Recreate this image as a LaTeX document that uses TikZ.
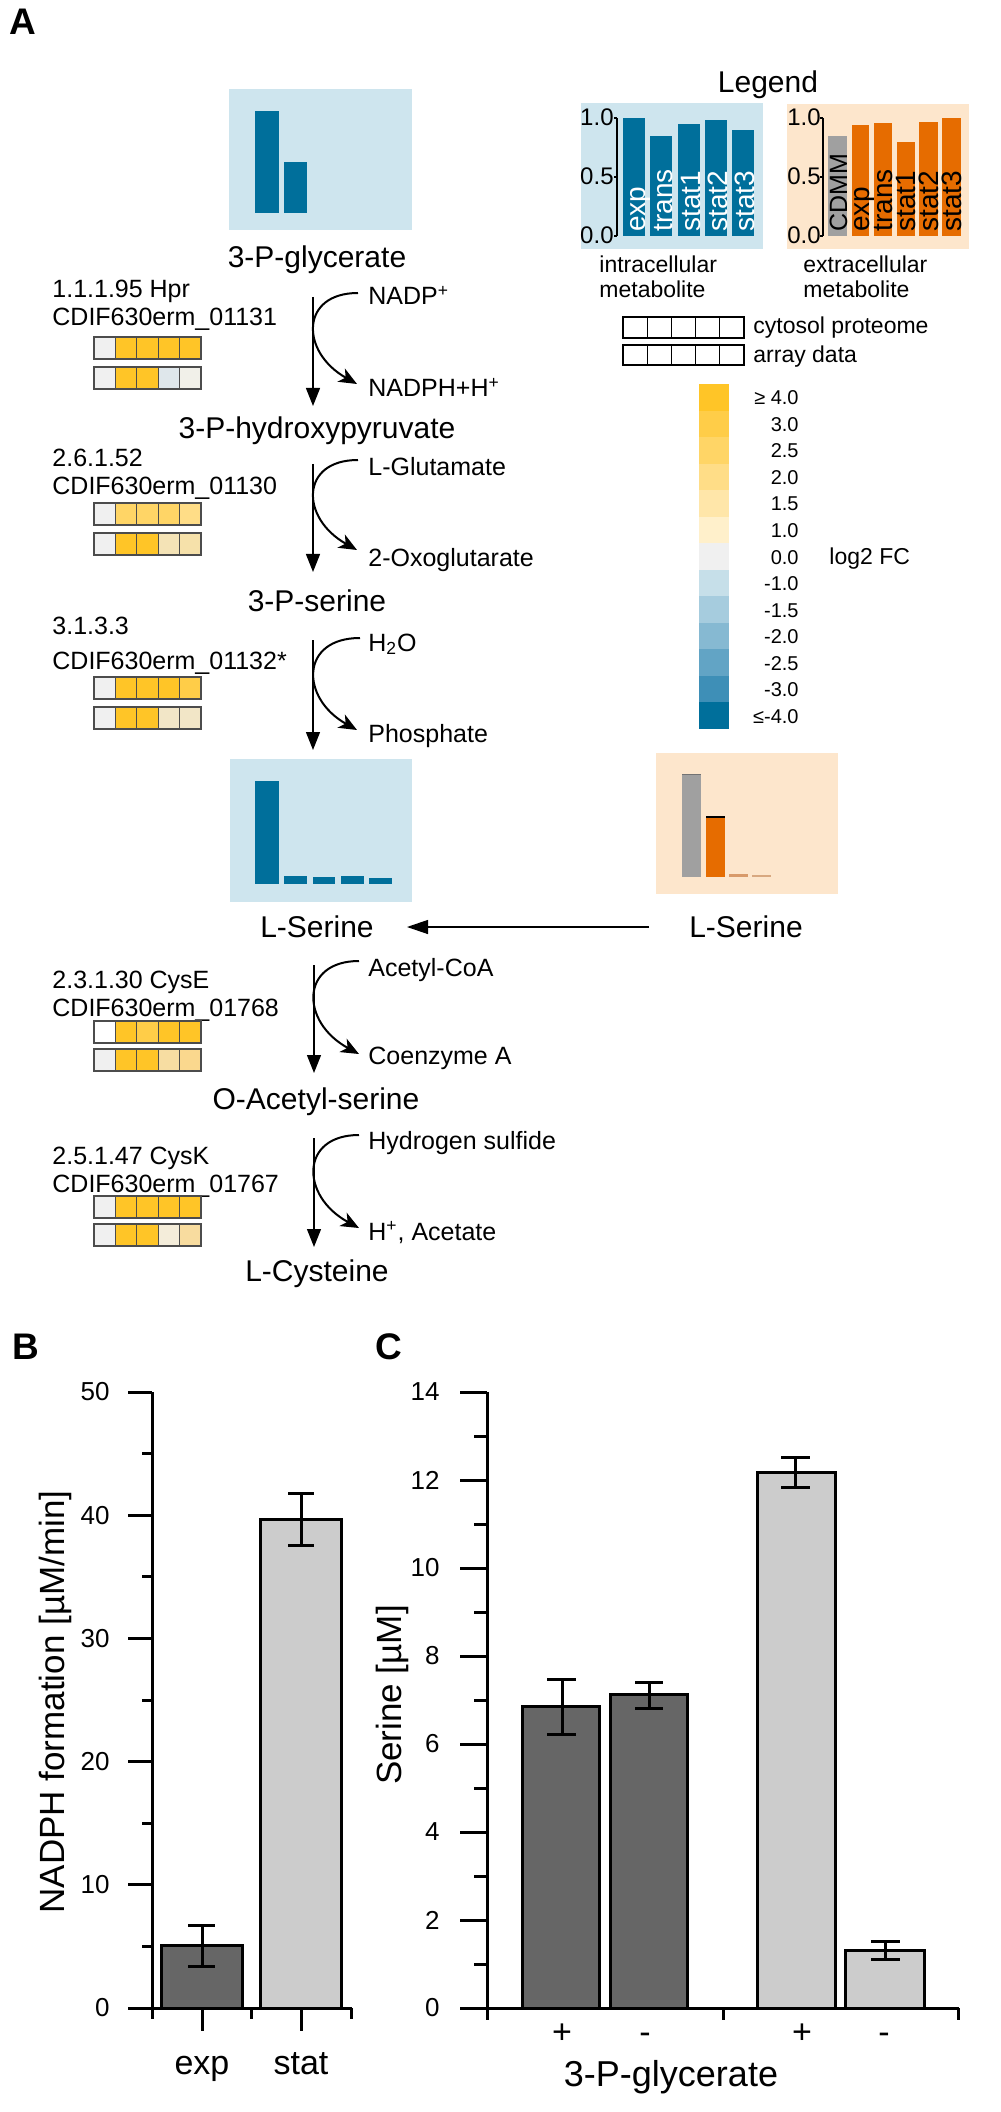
\documentclass[tikz,border=0pt]{standalone}
\usepackage{fontspec}
\setmainfont{Liberation Sans}
\usetikzlibrary{arrows.meta}
\definecolor{cfour}{HTML}{FFC527}
\definecolor{cthree}{HTML}{FFCD48}
\definecolor{ctwofive}{HTML}{FFD566}
\definecolor{ctwo}{HTML}{FFDD87}
\definecolor{conefive}{HTML}{FFE6A9}
\definecolor{cone}{HTML}{FFF0CB}
\definecolor{czero}{HTML}{F0F0F0}
\definecolor{mone}{HTML}{C6DFE9}
\definecolor{monefive}{HTML}{A6CCDE}
\definecolor{mtwo}{HTML}{86B9D2}
\definecolor{mtwofive}{HTML}{62A4C5}
\definecolor{mthree}{HTML}{3E8FB7}
\definecolor{mfour}{HTML}{006F9B}
\definecolor{boxblue}{HTML}{CEE5EE}
\definecolor{boxorange}{HTML}{FDE6CC}
\definecolor{barorange}{HTML}{E66C00}
\definecolor{bargray}{HTML}{A0A0A0}
\definecolor{darkbar}{HTML}{666666}
\definecolor{lightbar}{HTML}{CCCCCC}
\definecolor{smallora}{HTML}{D89A6A}
\definecolor{smallorb}{HTML}{D8A880}
\definecolor{ea}{HTML}{DFE7EB}
\definecolor{eb}{HTML}{F1F0E9}
\definecolor{ec}{HTML}{F4E3B6}
\definecolor{ed}{HTML}{F6E1AA}
\definecolor{ee}{HTML}{F2E6C7}
\definecolor{ef}{HTML}{F7DDA2}
\definecolor{eg}{HTML}{FAD88E}
\definecolor{eh}{HTML}{F4EDDA}
\definecolor{ei}{HTML}{F8DC9F}
\newcommand\heatrow[3]{\foreach \cc [count=\ii from 0] in {#3} {\draw[cellline, fill=\cc] ({#1+\ii*21.4},#2) rectangle ++(21.4,22);}}
\begin{document}
\begin{tikzpicture}[x=0.5pt,y=-0.5pt,
 met/.style={font=\fontsize{15}{18}\selectfont, inner sep=0pt, anchor=base},
 enz/.style={font=\fontsize{12.5}{15}\selectfont, inner sep=0pt, anchor=base west},
 rxn/.style={font=\fontsize{12.5}{15}\selectfont, inner sep=0pt, anchor=base west},
 leg/.style={font=\fontsize{11.5}{14}\selectfont, inner sep=0pt, anchor=base west},
 legtitle/.style={font=\fontsize{15}{18}\selectfont, inner sep=0pt, anchor=base},
 barlab/.style={font=\fontsize{14}{16}\selectfont, inner sep=0pt, anchor=base west, rotate=90},
 ticklab/.style={font=\fontsize{12}{14}\selectfont, inner sep=0pt, anchor=base east},
 scalelab/.style={font=\fontsize{10}{12}\selectfont, inner sep=0pt, anchor=base east},
 panel/.style={font=\fontsize{18.5}{20}\selectfont\bfseries, inner sep=0pt, anchor=base west},
 charttick/.style={font=\fontsize{13}{15}\selectfont, inner sep=0pt, anchor=east},
 charttitle/.style={font=\fontsize{17.5}{20}\selectfont, inner sep=0pt},
 xlab/.style={font=\fontsize{17}{20}\selectfont, inner sep=0pt, anchor=base},
 mainarr/.style={line width=0.65pt, -{Triangle[length=9pt,width=7pt]}},
 sidearr/.style={line width=1pt, -{Stealth[length=9pt,width=7.5pt,inset=2.5pt]}},
 cellline/.style={draw=black!70, line width=0.6pt},
 axis/.style={line width=1.5pt},
 barb/.style={draw=black, line width=1.5pt}]
\useasboundingbox (0,0) rectangle (1000,2112);
\fill[white] (0,0) rectangle (1000,2112);

% ---------------- Panel A ----------------
\node[panel] (labA) at (9,35) {A};

% 3-P-glycerate
\fill[boxblue] (229,89) rectangle (412,230);
\fill[mfour] (255,111) rectangle (279,213);
\fill[mfour] (284,162) rectangle (307,213);
\node[met] (glyc) at (317,268) {3-P-glycerate};

% reaction 1
\node[enz] (e1a) at (52,298) {1.1.1.95 Hpr};
\node[enz] (e1b) at (52,326) {CDIF630erm\_01131};
\heatrow{94}{337}{czero,cfour,cfour,cfour,cfour}
\heatrow{94}{367}{czero,cfour,cfour,ea,eb}
\coordinate (r1t) at (313,297); \coordinate (r1b) at (313,406);
\draw[mainarr] (r1t) -- (r1b);
\node[rxn] (nadp) at (368,305) {NADP\textsuperscript{+}};
\node[rxn] (nadph) at (368,397) {NADPH+H\textsuperscript{+}};
\coordinate (c1s) at (358,293); \coordinate (c1e) at (357,384);
\draw[sidearr] (c1s) .. controls +(-58,0) and +(-57,-32) .. (c1e);

\node[met] (hpyr) at (317,439) {3-P-hydroxypyruvate};

% reaction 2
\node[enz] (e2a) at (52,467) {2.6.1.52};
\node[enz] (e2b) at (52,495) {CDIF630erm\_01130};
\heatrow{94}{503}{czero,ctwofive,ctwofive,ctwofive,ctwo}
\heatrow{94}{533}{czero,cfour,cfour,ec,ed}
\coordinate (r2t) at (313,464); \coordinate (r2b) at (313,572);
\draw[mainarr] (r2t) -- (r2b);
\node[rxn] (glu) at (368,476) {L-Glutamate};
\node[rxn] (oxo) at (368,567) {2-Oxoglutarate};
\coordinate (c2s) at (358,460); \coordinate (c2e) at (357,550);
\draw[sidearr] (c2s) .. controls +(-58,0) and +(-57,-32) .. (c2e);

\node[met] (pser) at (317,611) {3-P-serine};

% reaction 3
\node[enz] (e3a) at (52,634) {3.1.3.3};
\node[enz] (e3b) at (52,669) {CDIF630erm\_01132*};
\heatrow{94}{677}{czero,cfour,cfour,cfour,cthree}
\heatrow{94}{707}{czero,cfour,cfour,ee,ee}
\coordinate (r3t) at (313,640); \coordinate (r3b) at (313,750);
\draw[mainarr] (r3t) -- (r3b);
\node[rxn] (water) at (368,651) {H\textsubscript{2}O};
\node[rxn] (phos) at (368,742) {Phosphate};
\coordinate (c3s) at (360,638); \coordinate (c3e) at (357,730);
\draw[sidearr] (c3s) .. controls +(-60,0) and +(-57,-32) .. (c3e);

% L-Serine intracellular
\fill[boxblue] (230,759) rectangle (412,902);
\fill[mfour] (255,781) rectangle (279,884);
\fill[mfour] (284,876) rectangle (307,884);
\fill[mfour] (313,877) rectangle (335,884);
\fill[mfour] (341,876) rectangle (364,884);
\fill[mfour] (369,878) rectangle (392,884);
\node[met] (lser) at (317,937) {L-Serine};

% L-Serine extracellular
\fill[boxorange] (656,753) rectangle (838,894);
\fill[bargray] (682,774) rectangle (701,877);
\draw[black!55, line width=0.5pt] (682,774) -- (701,774);
\fill[barorange] (706,817) rectangle (725,877);
\draw[black, line width=0.6pt] (706,817) -- (725,817);
\fill[smallora] (729,874) rectangle (748,877);
\fill[smallorb] (752,875) rectangle (771,877);
\node[met] (rser) at (746,937) {L-Serine};
\coordinate (sera) at (649,927); \coordinate (serb) at (407,927);
\draw[line width=0.65pt, -{Triangle[length=10.5pt,width=7pt]}] (sera) -- (serb);

% reaction 4
\node[enz] (e4a) at (52,988) {2.3.1.30 CysE};
\node[enz] (e4b) at (52,1016) {CDIF630erm\_01768};
\heatrow{94}{1021}{white,cfour,cthree,cfour,cfour}
\heatrow{94}{1049}{czero,cfour,cfour,ef,eg}
\coordinate (r4t) at (314,965); \coordinate (r4b) at (314,1073);
\draw[mainarr] (r4t) -- (r4b);
\node[rxn] (acoa) at (368,976) {Acetyl-CoA};
\node[rxn] (coa) at (368,1064) {Coenzyme A};
\coordinate (c4s) at (359,961); \coordinate (c4e) at (359,1054);
\draw[sidearr] (c4s) .. controls +(-59,0) and +(-59,-32) .. (c4e);

\node[met] (oas) at (316,1109) {O-Acetyl-serine};

% reaction 5
\node[enz] (e5a) at (52,1164) {2.5.1.47 CysK};
\node[enz] (e5b) at (52,1192) {CDIF630erm\_01767};
\heatrow{94}{1196}{czero,cfour,cfour,cfour,cfour}
\heatrow{94}{1224}{czero,cfour,cfour,eh,ei}
\coordinate (r5t) at (314,1138); \coordinate (r5b) at (314,1247);
\draw[mainarr] (r5t) -- (r5b);
\node[rxn] (hs) at (368,1149) {Hydrogen sulfide};
\node[rxn] (hac) at (368,1240) {H\textsuperscript{+}, Acetate};
\coordinate (c5s) at (359,1135); \coordinate (c5e) at (359,1228);
\draw[sidearr] (c5s) .. controls +(-59,0) and +(-59,-32) .. (c5e);

\node[met] (lcys) at (317,1281) {L-Cysteine};

% ---------------- Legend ----------------
\node[legtitle] (legt) at (768,93) {Legend};
% intracellular
\fill[boxblue] (581,103) rectangle (763,249);
\draw[line width=0.6pt] (617,118) -- (617,236);
\foreach \v/\yy in {1.0/118,0.5/177,0.0/236} {
  \draw[line width=0.6pt] (614,\yy) -- (617,\yy);
  \node[ticklab] (bl\yy) at (614,{\yy+8}) {\v};
}
\foreach \xa/\xb/\top/\lab in {623/645/118/exp,650/672/136/trans,678/700/124/stat1,705/727/120/stat2,732/754/130/stat3} {
  \fill[mfour] (\xa,\top) rectangle (\xb,236);
  \node[barlab, text=white] (bb\xa) at (\xb,232) {\lab};
}
\node[leg] (intra1) at (599,273) {intracellular};
\node[leg] (intra2) at (599,298) {metabolite};
% extracellular
\fill[boxorange] (787,104) rectangle (969,249);
\draw[line width=0.6pt] (823,118) -- (823,236);
\foreach \v/\yy in {1.0/118,0.5/177,0.0/236} {
  \draw[line width=0.6pt] (820,\yy) -- (823,\yy);
  \node[ticklab] (ol\yy) at (821,{\yy+8}) {\v};
}
\fill[bargray] (828,136) rectangle (847,236);
\node[barlab, font=\fontsize{12.5}{14}\selectfont] (obcdmm) at (847,232) {CDMM};
\foreach \xa/\xb/\top/\lab in {852/869/125/exp,874/892/123/trans,897/915/142/stat1,919/938/122/stat2,942/961/118/stat3} {
  \fill[barorange] (\xa,\top) rectangle (\xb,236);
  \node[barlab] (ob\xa) at (\xb,232) {\lab};
}
\node[leg] (extra1) at (803,273) {extracellular};
\node[leg] (extra2) at (803,298) {metabolite};
% heat legend
\foreach \i in {0,...,4} {
  \draw[line width=0.6pt, fill=white] ({623+24.2*\i},317) rectangle ++(24.2,21);
  \draw[line width=0.6pt, fill=white] ({623+24.2*\i},345) rectangle ++(24.2,20);
}
\node[leg] (cytp) at (753,334) {cytosol proteome};
\node[leg] (arrd) at (753,363) {array data};

% colour scale
\foreach \c/\l [count=\i from 0] in {cfour/≥ 4.0,cthree/3.0,ctwofive/2.5,ctwo/2.0,conefive/1.5,cone/1.0,czero/0.0,mone/-1.0,monefive/-1.5,mtwo/-2.0,mtwofive/-2.5,mthree/-3.0,mfour/≤-4.0} {
  \fill[\c] (699,{384+26.54*\i}) rectangle (729,{384+26.54*(\i+1)+0.3});
  \node[scalelab] (sl\i) at (799,{384+26.54*(\i+0.5)+7.5}) {\l};
}
\node[leg] (logfc) at (829,565) {log2 FC};

% ---------------- Panel B ----------------
\node[panel] (labB) at (12,1359) {B};
\foreach \v in {0,10,...,50} {
  \draw[axis] (128,{2008-12.32*\v}) -- (152,{2008-12.32*\v});
  \node[charttick] (bt\v) at (110,{2008-12.32*\v}) {\v};
}
\foreach \v in {5,15,...,45} \draw[axis] (142,{2008-12.32*\v}) -- (152,{2008-12.32*\v});
\draw[axis] (152,1392) -- (152,2019);
\draw[axis] (128,2008) -- (352,2008);
\draw[axis] (202,2008) -- (202,2031);
\draw[axis] (251,2008) -- (251,2019);
\draw[axis] (301,2008) -- (301,2031);
\draw[axis] (351,2008) -- (351,2019);
\draw[barb, fill=darkbar] (161,2008) rectangle (242,1945);
\draw[barb, fill=lightbar] (260,2008) rectangle (341,1519);
\draw[axis] (202,1925) -- (202,1966) (188,1925) -- (215,1925) (188,1966) -- (215,1966);
\draw[axis] (301,1493) -- (301,1545) (288,1493) -- (314,1493) (288,1545) -- (314,1545);
\node[charttitle, rotate=90] (bylab) at (55,1702) {NADPH formation [µM/min]};
\node[xlab] (bexp) at (202,2074) {exp};
\node[xlab] (bstat) at (301,2074) {stat};

% ---------------- Panel C ----------------
\node[panel] (labC) at (375,1359) {C};
\foreach \v in {0,2,...,14} {
  \draw[axis] (460,{2008-44*\v}) -- (487,{2008-44*\v});
  \node[charttick] (ct\v) at (440,{2008-44*\v}) {\v};
}
\foreach \v in {1,3,...,13} \draw[axis] (474,{2008-44*\v}) -- (487,{2008-44*\v});
\draw[axis] (487,1392) -- (487,2020);
\draw[axis] (460,2008) -- (959,2008);
\draw[axis] (723,2008) -- (723,2020);
\draw[axis] (958,2008) -- (958,2020);
\draw[barb, fill=darkbar] (522,2008) rectangle (599,1706);
\draw[barb, fill=darkbar] (610,2008) rectangle (687,1694);
\draw[barb, fill=lightbar] (757,2008) rectangle (835,1472);
\draw[barb, fill=lightbar] (845,2008) rectangle (924,1950);
\draw[axis] (562,1679) -- (562,1734) (547,1679) -- (576,1679) (547,1734) -- (576,1734);
\draw[axis] (649,1682) -- (649,1708) (635,1682) -- (663,1682) (635,1708) -- (663,1708);
\draw[axis] (795,1457) -- (795,1487) (781,1457) -- (810,1457) (781,1487) -- (810,1487);
\draw[axis] (885,1941) -- (885,1959) (871,1941) -- (900,1941) (871,1959) -- (900,1959);
\node[charttitle, rotate=90] (cylab) at (392,1695) {Serine [µM]};
\node[xlab] (cp1) at (562,2043) {+};
\node[xlab] (cm1) at (645,2043) {-};
\node[xlab] (cp2) at (802,2043) {+};
\node[xlab] (cm2) at (884,2043) {-};
\node[xlab, font=\fontsize{18}{20}\selectfont] (cxl) at (671,2086) {3-P-glycerate};
\end{tikzpicture}
\end{document}
